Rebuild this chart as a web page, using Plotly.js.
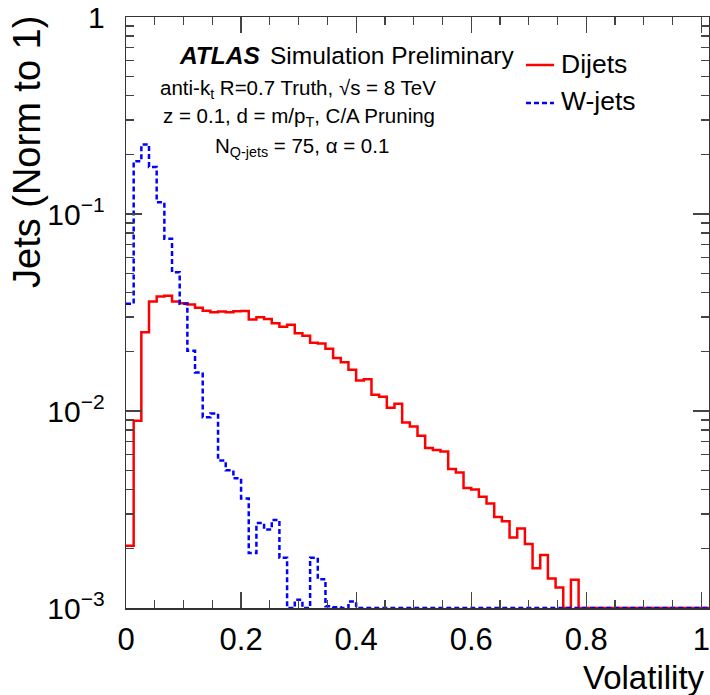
<!DOCTYPE html>
<html>
<head>
<meta charset="utf-8">
<script src="https://cdn.plot.ly/plotly-3.0.1.min.js"></script>
<style>html,body{margin:0;padding:0;background:#fff;}#chart{width:710px;height:695px;}</style>
</head>
<body>
<div id="chart"></div>
<script>
// Histogram binning: 76 bins of width 1/75 starting at 0
var nBins = 76;
var binWidth = 1 / 75;

// Dijets (red, solid) bin contents, normalised
var dijets = [0.00207, 0.00893, 0.0251, 0.0360, 0.0381, 0.0385, 0.0360, 0.0352, 0.0347, 0.0334,
  0.0323, 0.0317, 0.0320, 0.0317, 0.0321, 0.0322, 0.0291, 0.0299, 0.0293, 0.0279,
  0.0268, 0.0274, 0.0248, 0.0241, 0.0222, 0.0220, 0.0207, 0.0186, 0.0177, 0.0162,
  0.0143, 0.0145, 0.0121, 0.0118, 0.0104, 0.0109, 0.00875, 0.00835, 0.00749, 0.00648,
  0.00633, 0.00623, 0.00507, 0.00488, 0.00406, 0.00400, 0.00367, 0.00339, 0.00290, 0.00276,
  0.00228, 0.00253, 0.00211, 0.00159, 0.00186, 0.00141, 0.00127, 0, 0.00139, 0,
  0, 0, 0, 0, 0, 0, 0, 0, 0, 0,
  0, 0, 0, 0, 0, 0];

// W-jets (blue, dotted) bin contents, normalised
var wjets = [0.035, 0.1855, 0.2254, 0.173, 0.1148, 0.0748, 0.0506, 0.035, 0.0202, 0.0157,
  0.0093, 0.0097, 0.0056, 0.0050, 0.00455, 0.0036, 0.0019, 0.0027, 0.0025, 0.0028,
  0.0018, 0, 0.0011, 0, 0.0018, 0.0014, 0.00102, 0.00101, 0, 0.00108,
  0, 0, 0, 0, 0, 0, 0, 0, 0, 0,
  0, 0, 0, 0, 0, 0, 0, 0, 0, 0,
  0, 0, 0, 0, 0, 0, 0, 0, 0, 0,
  0, 0, 0, 0, 0, 0, 0, 0, 0, 0,
  0, 0, 0, 0, 0, 0];

var seriesNames = ['Dijets', 'W-jets'];
var xTickVals = [0, 0.2, 0.4, 0.6, 0.8, 1];
var xTickText = ['0', '0.2', '0.4', '0.6', '0.8', '1'];

var yFloor = 1e-3; // empty bins are drawn on the bottom of the log axis

function stepTrace(vals, name, color, dash) {
  var xs = [], ys = [];
  for (var i = 0; i < vals.length; i++) {
    xs.push(i * binWidth);
    ys.push(vals[i] > 0 ? vals[i] : yFloor);
  }
  xs.push(vals.length * binWidth);
  ys.push(ys[ys.length - 1]);
  return {
    type: 'scatter', mode: 'lines', x: xs, y: ys, name: name,
    line: {shape: 'hv', color: color, width: 2.5, dash: dash},
    showlegend: false, hoverinfo: 'skip'
  };
}

var traces = [
  stepTrace(dijets, seriesNames[0], '#ff0000', 'solid'),
  stepTrace(wjets, seriesNames[1], '#0000ff', '5px,3px')
];

var L = 126, T = 17, W = 583, H = 591;
function px(x) { return (x - L) / W; }
function py(y) { return (T + H - y) / H; }

var font = 'Liberation Sans, Arial, Helvetica, sans-serif';

var annotations = [
  {text: '<b><i>ATLAS</i></b>', x: px(177), y: py(56), xanchor: 'left', yanchor: 'middle', font: {size: 24.5}},
  {text: 'Simulation Preliminary', x: px(268), y: py(56), xanchor: 'left', yanchor: 'middle', font: {size: 24.5}},
  {text: 'anti-k<sub>t</sub> R=0.7 Truth, √s = 8 TeV', x: px(158), y: py(89), xanchor: 'left', yanchor: 'middle', font: {size: 20.5}},
  {text: 'z = 0.1, d = m/p<sub>T</sub>, C/A Pruning', x: px(161), y: py(117), xanchor: 'left', yanchor: 'middle', font: {size: 20.5}},
  {text: 'N<sub>Q-jets</sub> = 75, α = 0.1', x: px(213), y: py(147), xanchor: 'left', yanchor: 'middle', font: {size: 20.5}},
  {text: seriesNames[0], x: px(559), y: py(64), xanchor: 'left', yanchor: 'middle', font: {size: 26.5}},
  {text: seriesNames[1], x: px(559), y: py(101), xanchor: 'left', yanchor: 'middle', font: {size: 26.5}},
  {text: 'Jets (Norm to 1)', textangle: -90, x: px(27), y: py(14), xanchor: 'center', yanchor: 'top', font: {size: 38}},
  {text: 'Volatility', x: px(707), y: py(677), xanchor: 'right', yanchor: 'middle', font: {size: 33}}
].map(function (a) {
  a.xref = 'paper'; a.yref = 'paper'; a.showarrow = false;
  a.font.family = font; a.font.color = '#000';
  return a;
});

var shapes = [
  {type: 'line', xref: 'paper', yref: 'paper', x0: px(526), x1: px(554), y0: py(65), y1: py(65),
   line: {color: '#ff0000', width: 2.5}},
  {type: 'line', xref: 'paper', yref: 'paper', x0: px(526), x1: px(554), y0: py(103), y1: py(103),
   line: {color: '#0000ff', width: 2.5, dash: '5px,3px'}}
];

var axisCommon = {
  ticks: 'inside', ticklen: 16, tickwidth: 1.2, tickcolor: '#444',
  showline: true, linecolor: '#333', linewidth: 1.5, mirror: 'allticks',
  showgrid: false, zeroline: false
};

var layout = {
  width: 710, height: 695,
  margin: {l: L, r: 710 - L - W, t: T, b: 695 - T - H},
  paper_bgcolor: '#fff', plot_bgcolor: '#fff',
  font: {family: font, color: '#000'},
  showlegend: false,
  xaxis: Object.assign({}, axisCommon, {
    range: [0, nBins * binWidth],
    tickmode: 'array', tickvals: xTickVals, ticktext: xTickText,
    tickfont: {size: 31, family: font, color: '#000'},
    ticklabelstandoff: 3,
    minor: {dtick: 0.05, tick0: 0, ticklen: 8, tickwidth: 1.2, tickcolor: '#444', ticks: 'inside', showgrid: false}
  }),
  yaxis: Object.assign({}, axisCommon, {
    type: 'log', range: [-3, 0], dtick: 1, exponentformat: 'power',
    tickfont: {size: 24, family: font, color: '#000'},
    ticklabelstandoff: 15,
    minor: {dtick: 'D1', ticklen: 8, tickwidth: 1.2, tickcolor: '#444', ticks: 'inside', showgrid: false}
  }),
  annotations: annotations,
  shapes: shapes
};

Plotly.newPlot('chart', traces, layout, {displayModeBar: false, staticPlot: true});
</script>
</body>
</html>
